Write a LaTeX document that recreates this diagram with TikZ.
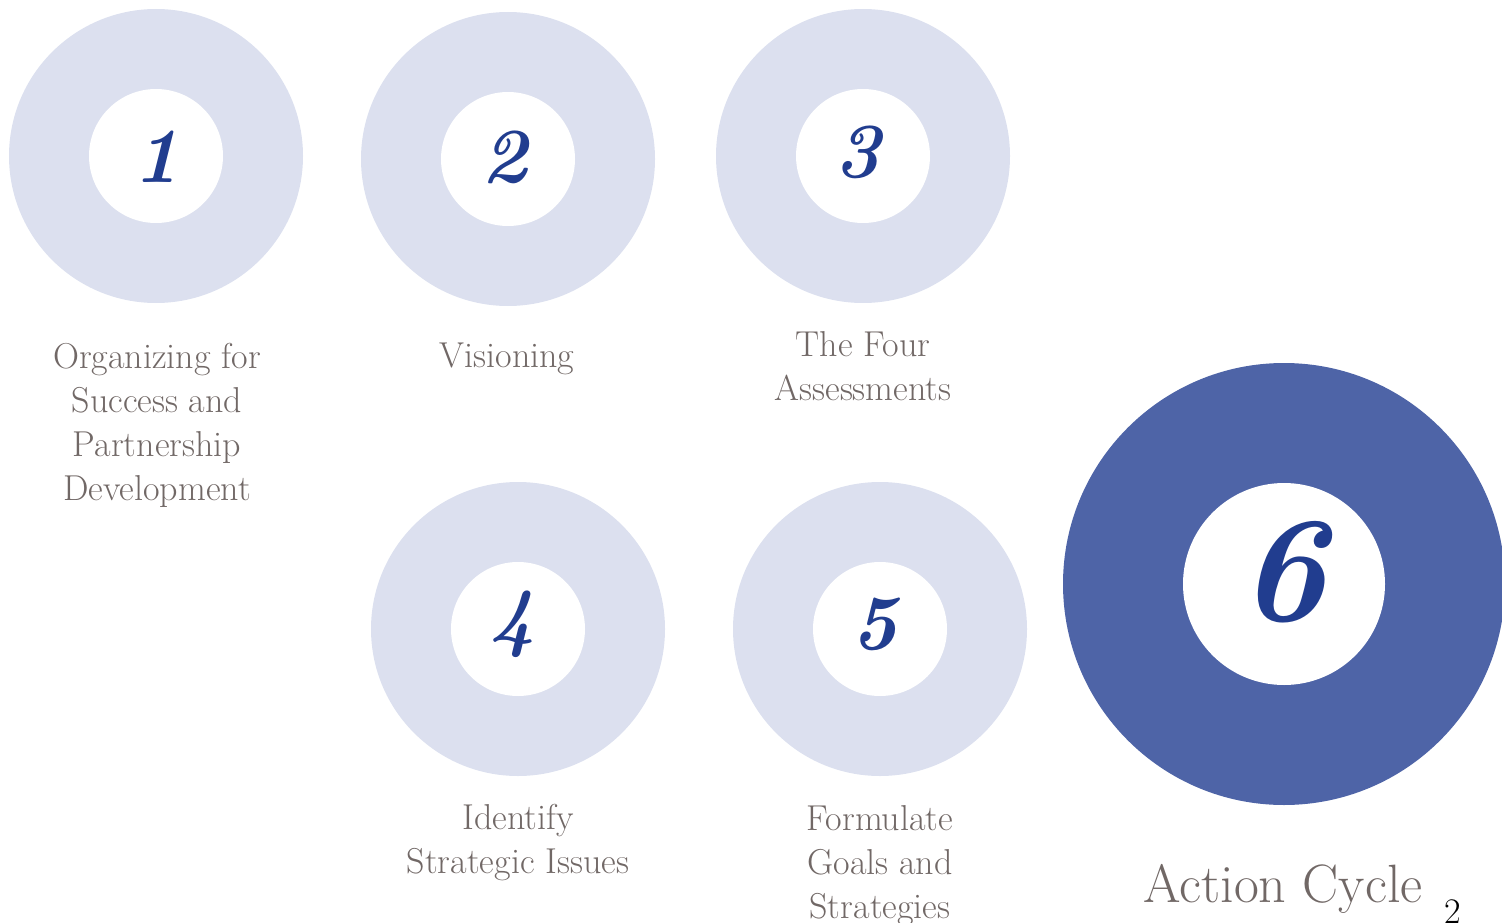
\documentclass[tikz,border=0pt]{standalone}
\usepackage{fontspec}
\definecolor{ringlight}{HTML}{DCE0EF}
\definecolor{ringdark}{HTML}{4E64A7}
\definecolor{numblue}{HTML}{213D8F}
\definecolor{labelgrey}{HTML}{716866}
\begin{document}
\begin{tikzpicture}[x=1pt,y=-1pt,
  ring/.style={circle,fill=ringlight,minimum size=294pt,inner sep=0pt},
  bigring/.style={circle,fill=ringdark,minimum size=442pt,inner sep=0pt},
  hole/.style={circle,fill=white,minimum size=134pt,inner sep=0pt},
  bighole/.style={circle,fill=white,minimum size=202pt,inner sep=0pt},
  num/.style={text=numblue,font=\fontsize{78}{78}\selectfont\bfseries\itshape},
  bignum/.style={text=numblue,font=\fontsize{150}{150}\selectfont\bfseries\itshape},
  lbl/.style={text=labelgrey,align=center,font=\fontsize{36}{44}\selectfont,inner sep=0pt}]
\useasboundingbox (0,0) rectangle (1502,923);
% rings
\node[ring] (r1) at (156,156) {};
\node[hole] (h1) at (156,156) {};
\node[ring] (r2) at (508,159) {};
\node[hole] (h2) at (508,159) {};
\node[ring] (r3) at (863,156) {};
\node[hole] (h3) at (863,156) {};
\node[ring] (r4) at (518,629) {};
\node[hole] (h4) at (518,629) {};
\node[ring] (r5) at (880,629) {};
\node[hole] (h5) at (880,629) {};
\node[bigring] (r6) at (1284,584) {};
\node[bighole] (h6) at (1284,584) {};
% numbers
\node[num] (n1) at (157,157) {1};
\node[num] (n2) at (505,157) {2};
\node[num] (n3) at (858,152) {3};
\node[num] (n4) at (513,624) {4};
\node[num] (n5) at (875,624) {5};
\node[bignum] (n6) at (1283,572) {6};
% labels
\node[lbl,anchor=north] (l1) at (157,343) {Organizing for\\Success and\\Partnership\\Development};
\node[lbl,anchor=north] (l2) at (507,343) {Visioning};
\node[lbl,anchor=north] (l3) at (863,331) {The Four\\Assessments};
\node[lbl,anchor=north] (l4) at (518,804) {Identify\\Strategic Issues};
\node[lbl,anchor=north] (l5) at (880,805) {Formulate\\Goals and\\Strategies};
\node[text=labelgrey,font=\fontsize{54}{54}\selectfont,inner sep=0pt] (l6) at (1283,889) {Action Cycle};
\node[text=black,font=\fontsize{36}{36}\selectfont,inner sep=0pt,anchor=base] (pg) at (1453,923) {2};
\end{tikzpicture}
\end{document}
